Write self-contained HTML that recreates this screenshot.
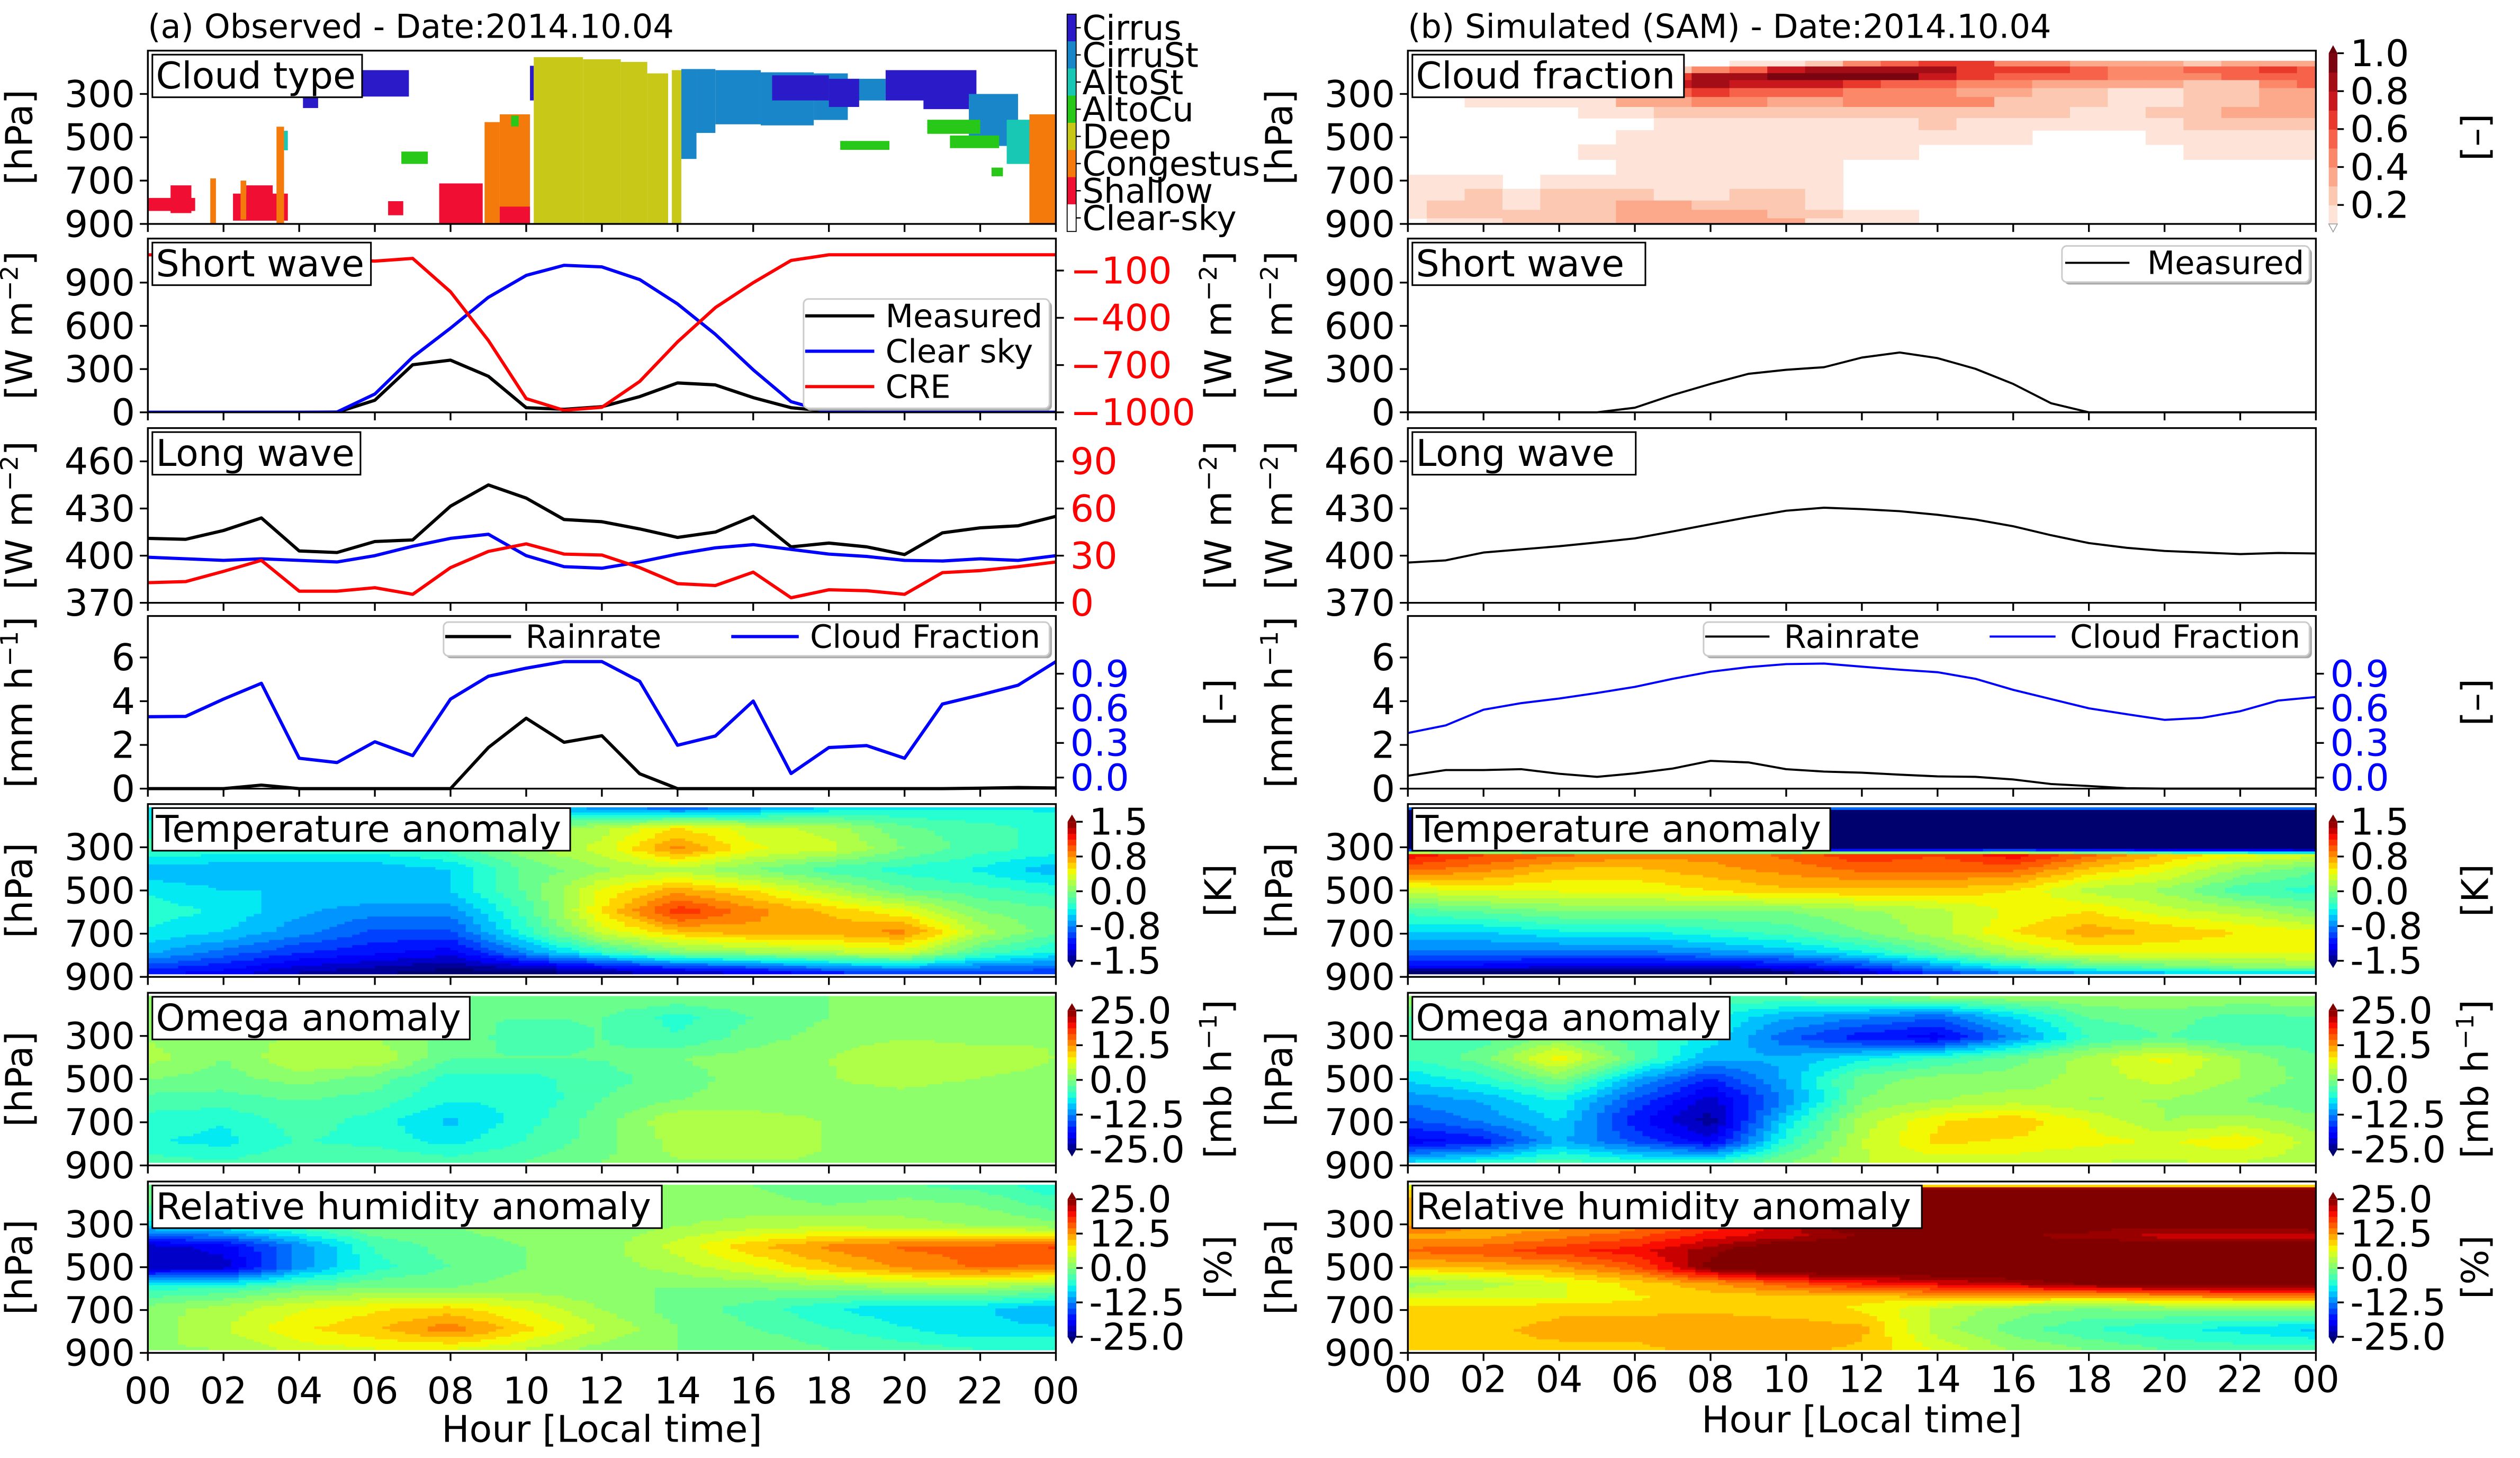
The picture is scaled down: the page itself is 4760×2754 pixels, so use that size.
<!DOCTYPE html>
<html><head><meta charset="utf-8"><title>Observed vs Simulated 2014.10.04</title>
<style>
html,body{margin:0;padding:0;background:#fff;}
svg{display:block;font-family:"DejaVu Sans","Liberation Sans",sans-serif;}
</style></head>
<body>
<svg id="fig" xmlns="http://www.w3.org/2000/svg" width="4760" height="2754" viewBox="0 0 1568 907" preserveAspectRatio="none">
<rect x="0" y="0" width="1568" height="907" fill="#fff"/>
<text x="92" y="23.6" font-size="20.5">(a) Observed - Date:2014.10.04</text>
<text x="876" y="23.6" font-size="20.5">(b) Simulated (SAM) - Date:2014.10.04</text>
<text x="374.5" y="897" font-size="23" text-anchor="middle">Hour [Local time]</text>
<text x="1158.5" y="891" font-size="23" text-anchor="middle">Hour [Local time]</text>
</svg>
<script>
// ---------------- DATA ----------------
const hours25 = [0,1,2,3,4,5,6,7,8,9,10,11,12,13,14,15,16,17,18,19,20,21,22,23,24];
const gridHours = [0,2,4,6,8,10,12,14,16,18,20,22,24];

const swObsMeasured = [0,0,0,0,0,0,84,330,362,250,32,21,39,109,204,190,102,32,7,0,0,0,0,0,0];
const swObsClear = [0,0,0,0,0,2,127,383,584,798,950,1020,1009,921,752,541,295,74,0,0,0,0,0,0,0];
const swObsCRE = [0,-5,-10,-15,-20,-30,-40,-23,-235,-544,-913,-987,-968,-804,-553,-335,-177,-36,0,0,0,0,0,0,0];
const lwObsMeasured = [411,410.4,416,424,403,402,409,410,431.5,445,436.6,423,421.6,417,411.6,415,425,405.6,408,405.6,400.7,414.5,417.7,419,425];
const lwObsClear = [399,398,397,398,397,396,400,406,411,413.6,400,393,392,396,401,405,407,404,401,399.5,397,396.6,398,397,400];
const lwObsCRE = [12.8,13.5,20,27,7.4,7.4,9.6,5.4,22.4,32.7,37.5,31,30.4,22.4,12.2,11,19.5,3.2,8.3,7.7,5.4,19.2,20.5,23,26];
const rainObs = [0,0,0,0.16,0,0,0,0,0,1.88,3.22,2.12,2.42,0.68,0,0,0,0,0,0,0,0,0.02,0.05,0.03];
const cfObs = [0.527,0.53,0.68,0.817,0.167,0.13,0.31,0.19,0.68,0.878,0.948,1.005,1.005,0.834,0.28,0.36,0.663,0.035,0.26,0.277,0.167,0.637,0.716,0.8,1.005];

const swSimMeasured = [0,0,0,0,0,0,32,120,197,267,295,313,380,415,376,302,197,63,0,0,0,0,0,0,0];
const lwSimMeasured = [395.6,397,402,404,406,408.4,411,415.4,420,424.5,428.6,430.5,429.6,428.3,426,423,418.7,413,408,405,403,402,401,401.7,401.4];
const rainSim = [0.59,0.85,0.85,0.89,0.68,0.54,0.7,0.92,1.27,1.2,0.89,0.78,0.73,0.64,0.56,0.54,0.42,0.21,0.12,0.02,0,0,0,0,0];
const cfSim = [0.386,0.452,0.588,0.645,0.685,0.733,0.786,0.856,0.917,0.957,0.983,0.988,0.961,0.935,0.913,0.856,0.76,0.68,0.6,0.549,0.5,0.518,0.575,0.667,0.698];

// cloud type blocks: [hourStart, hourEnd, pTop, pBottom, typeIndex]
const cloudTypeNames = ["Cirrus","CirruSt","AltoSt","AltoCu","Deep","Congestus","Shallow","Clear-sky"];
const cloudTypeColors = ["#2a1ac8","#1886c8","#18c8b4","#28c818","#c8c818","#f57a0c","#f00f32","#ffffff"];
const cloudBlocks = [
 [0,1.25,780,840,6],[0.6,1.15,722,850,6],[2.25,3.7,760,885,6],[2.6,3.3,722,780,6],
 [1.65,1.8,690,900,5],[2.45,2.6,700,880,5],[3.4,3.6,451,900,5],[3.6,3.7,470,560,2],
 [4.1,4.5,312,365,0],[5.6,6.9,190,312,0],[6.7,7.4,566,623,3],[6.35,6.75,795,860,6],
 [7.7,8.85,713,897,6],[8.9,9.3,430,900,5],[9.3,10.1,394,900,5],[9.3,10.1,820,900,6],[9.6,9.8,400,450,3],
 [10.1,10.2,170,330,0],[10.2,11.5,130,900,4],[11.5,12.5,140,900,4],[12.5,13.2,152,900,4],[13.2,13.75,205,900,4],[13.85,14.1,190,900,4],
 [14.1,14.5,185,600,1],[14.5,15.0,185,480,1],[15.0,16.2,190,440,1],[16.2,17.6,200,445,1],[17.6,18.5,205,420,1],[18.5,19.5,230,330,1],[19.5,21.7,240,300,1],
 [16.5,18.0,214,330,0],[18.0,18.8,230,360,0],[19.5,21.9,190,330,0],[20.5,21.7,300,370,0],
 [21.7,23.0,300,540,1],[22.7,23.4,419,623,2],[23.3,24,394,900,5],
 [20.6,22.0,419,484,3],[21.2,22.5,492,550,3],[18.3,19.6,517,558,3],[22.3,22.6,640,680,3]
];

// simulated cloud fraction: pressure edges and values per row (columns centred on hours 0..24)
const cfSimEdges = [147,173,204,236,273,314,360,411,467,533,602,673,738,792,835,874,900];
const cfSimValues = [
 [0,0,0,0,0,0,0,0,0,0.12,0.15,0.25,0.45,0.55,0.65,0.6,0.45,0.45,0.35,0.3,0.3,0.2,0.3,0.35,0.3],
 [0,0,0,0,0,0,0.15,0.25,0.4,0.55,0.75,0.8,0.85,0.85,0.8,0.65,0.6,0.6,0.5,0.45,0.45,0.5,0.55,0.65,0.5],
 [0,0,0,0,0,0,0.3,0.65,0.8,0.8,0.9,0.9,0.9,0.9,0.75,0.65,0.55,0.5,0.5,0.45,0.45,0.45,0.5,0.55,0.55],
 [0,0,0,0,0,0,0.45,0.75,0.8,0.75,0.75,0.7,0.6,0.55,0.55,0.45,0.45,0.35,0.3,0.3,0.3,0.2,0.25,0.45,0.5],
 [0,0,0,0,0,0,0.5,0.55,0.6,0.55,0.55,0.5,0.45,0.45,0.45,0.3,0.3,0.25,0.25,0.12,0.12,0.25,0.25,0.3,0.3],
 [0,0,0.12,0.12,0.12,0.12,0.3,0.35,0.45,0.4,0.35,0.35,0.4,0.4,0.4,0.4,0.25,0.25,0.25,0.12,0.12,0.25,0.25,0.3,0.3],
 [0,0,0,0,0,0.12,0.12,0.2,0.2,0.2,0.25,0.25,0.25,0.25,0.25,0.2,0.25,0.2,0.12,0.12,0.2,0.25,0.35,0.35,0.3],
 [0,0,0,0,0,0,0.05,0.12,0.12,0.12,0.12,0.12,0.12,0.12,0.2,0.12,0.12,0.12,0.12,0.12,0.12,0.2,0.2,0.25,0.2],
 [0,0,0,0,0,0,0.12,0.12,0.12,0.12,0.12,0.12,0.12,0.12,0.12,0.12,0.12,0,0,0,0.12,0.12,0.12,0.12,0.15],
 [0,0,0,0,0,0.12,0.12,0.12,0.12,0.12,0.12,0.12,0.12,0.12,0,0,0,0,0,0,0,0.12,0.12,0.12,0.12],
 [0,0,0,0,0,0,0.12,0.12,0.12,0.12,0.12,0.12,0,0,0,0,0,0,0,0,0,0,0,0,0],
 [0.12,0.12,0.12,0.05,0.12,0.12,0.12,0.12,0.12,0.12,0.12,0.12,0,0,0,0,0,0,0,0,0,0,0,0,0],
 [0.12,0.12,0.2,0.12,0.2,0.2,0.2,0.15,0.12,0.2,0.2,0.12,0,0,0,0,0,0,0,0,0,0,0,0,0],
 [0.12,0.2,0.2,0.12,0.2,0.2,0.3,0.3,0.2,0.2,0.2,0.12,0,0,0,0,0,0,0,0,0,0,0,0,0],
 [0.12,0.2,0.2,0.2,0.2,0.25,0.3,0.3,0.3,0.3,0.2,0.2,0.12,0.12,0,0,0,0,0,0,0,0,0,0,0],
 [0.05,0.12,0.12,0.2,0.2,0.2,0.3,0.3,0.3,0.3,0.3,0.12,0.12,0.12,0,0,0,0,0,0,0,0,0,0,0]
];
const cfLevelColors = ["#fee4d8","#fcc8b2","#fca98b","#fb8868","#f6624a","#e8392c","#c8171d","#a30e16","#7a0510"];

// temperature anomaly (K)
const tObsP = [100,200,300,400,500,600,700,800,900];
const tObs = [
 [-0.5,-0.5,-0.5,-0.6,-0.6,-0.6,-0.7,-0.9,-0.7,-0.5,-0.4,-0.4,-0.4],
 [-0.3,-0.3,-0.3,-0.3,-0.2,0.0,0.2,0.5,0.3,0.2,-0.1,-0.2,-0.3],
 [-0.2,-0.3,-0.3,-0.3,-0.2,0.1,0.3,0.8,0.4,0.3,0.0,-0.2,-0.3],
 [-0.6,-0.6,-0.6,-0.6,-0.5,-0.1,0.1,0.2,0.0,-0.2,-0.3,-0.4,-0.6],
 [-0.4,-0.5,-0.5,-0.5,-0.5,-0.1,0.4,0.7,0.5,0.2,-0.1,-0.2,-0.3],
 [-0.3,-0.4,-0.6,-0.7,-0.7,-0.2,0.5,1.1,0.8,0.6,0.4,0.0,-0.1],
 [-0.4,-0.5,-0.7,-0.9,-0.9,-0.3,0.3,0.6,0.7,0.7,0.8,0.2,-0.1],
 [-0.6,-0.8,-1.0,-1.1,-1.2,-0.7,-0.3,0.0,0.1,0.2,0.3,-0.2,-0.4],
 [-1.1,-1.2,-1.4,-1.5,-1.6,-1.6,-1.5,-1.4,-1.3,-1.1,-1.0,-1.0,-1.0]
];
const tSimP = [100,120,295,330,400,500,600,700,800,870,900];
const tSim = [
 [-0.2,-0.2,-0.2,-0.2,-0.2,-0.2,-0.2,-0.2,-0.2,-0.2,-0.2,-0.2,-0.2],
 [-2,-2,-2,-2,-2,-2,-2,-2,-2,-2,-2,-2,-2],
 [-2,-2,-2,-2,-2,-2,-2,-2,-2,-2,-2,-2,-2],
 [1.2,1.0,0.9,0.8,0.8,0.9,1.1,1.0,1.2,0.9,0.6,0.4,0.3],
 [0.9,0.8,0.6,0.6,0.7,0.8,0.9,0.9,0.9,0.6,0.4,0.1,-0.1],
 [0.3,0.4,0.4,0.4,0.5,0.6,0.6,0.6,0.5,0.2,0.1,-0.2,-0.3],
 [-0.2,-0.1,0.0,0.0,0.0,0.0,0.1,0.2,0.4,0.5,0.3,0.2,0.0],
 [-0.5,-0.5,-0.4,-0.4,-0.3,-0.2,0.0,0.2,0.5,0.7,0.6,0.5,0.4],
 [-0.8,-0.8,-0.8,-0.8,-0.7,-0.6,-0.4,-0.1,0.2,0.4,0.4,0.4,0.4],
 [-1.2,-1.2,-1.3,-1.3,-1.3,-1.2,-1.0,-0.7,-0.4,-0.2,-0.1,0.0,0.1],
 [-1.8,-1.8,-1.8,-1.8,-1.8,-1.6,-1.4,-1.0,-0.8,-0.7,-0.6,-0.6,-0.6]
];

// omega anomaly (mb/h)
const wObsP = [100,200,300,400,500,600,700,800,900];
const wObs = [
 [0,0,0,0,0,0,0,0,0,0,0,0,0],
 [1,1,0,-1,-2,-2,-2,-5,-2,0,2,1,1],
 [2,0,3,2,-1,-3,-2,-4,-1,1,2,1,2],
 [3,0,4,4,-2,-2,-2,0,1,2,4,4,2],
 [0,-1,1,-1,-5,-5,-3,-1,1,2,3,2,1],
 [-3,-3,-2,-3,-6,-6,-2,0,1,1,1,0,0],
 [-5,-6,-3,-5,-9,-5,-1,4,3,2,1,1,0],
 [-6,-7,-4,-5,-7,-4,-1,3,3,2,2,1,1],
 [-3,-4,-2,-2,-3,-2,0,2,2,2,2,2,1]
];
const wSimP = [100,200,300,400,500,600,700,800,900];
const wSim = [
 [2,2,1,0,-2,-2,0,1,2,2,2,2,2],
 [-2,-3,-2,-4,-6,-10,-12,-14,-8,-2,-1,-3,-2],
 [-3,-3,0,-3,-7,-14,-18,-20,-12,-4,-2,-4,-3],
 [-4,-1,8,-2,-10,-10,-7,-4,-1,3,7,2,-2],
 [-8,-5,0,-10,-17,-10,-1,1,1,3,5,2,-1],
 [-12,-10,-6,-15,-22,-12,0,2,3,2,2,0,-2],
 [-15,-12,-8,-18,-24,-8,3,8,10,6,2,3,1],
 [-20,-18,-10,-15,-20,-5,4,9,8,7,6,8,3],
 [-8,-5,-3,-5,-5,0,4,5,5,4,4,4,3]
];

// relative humidity anomaly (%)
const rhObsP = [100,200,300,400,500,600,700,800,900];
const rhObs = [
 [-2,-2,-2,-2,-2,0,0,0,0,-2,-2,-3,-6],
 [-2,-2,-1,-1,0,0,1,1,1,0,1,0,-3],
 [-8,-6,-3,0,0,1,1,2,3,4,3,2,1],
 [-22,-20,-12,-4,-1,0,1,5,10,13,15,15,17],
 [-22,-22,-12,-5,-2,0,1,3,6,10,13,15,14],
 [-5,-4,-1,0,0,1,0,0,0,1,2,2,0],
 [1,3,6,8,9,6,2,-1,-3,-6,-8,-8,-10],
 [1,4,8,10,14,9,4,0,-2,-4,-6,-8,-8],
 [2,2,5,6,6,4,1,0,0,-2,-3,-4,-4]
];
const rhSimP = [100,125,290,310,350,420,500,580,650,700,800,900];
const rhSim = [
 [3,3,3,3,3,3,3,3,3,3,3,3,3],
 [10,10,10,10,30,30,30,30,30,30,30,30,30],
 [12,10,10,12,20,28,30,30,30,30,30,30,30],
 [14,12,12,14,18,22,28,30,28,26,24,24,26],
 [12,12,14,16,20,22,25,25,25,24,22,22,22],
 [15,16,18,20,24,30,30,30,30,30,30,30,30],
 [10,11,12,16,26,30,30,30,30,30,30,30,30],
 [1,3,6,9,12,16,19,21,23,26,28,28,28],
 [6,6,6,8,9,9,9,10,10,9,10,12,12],
 [9,9,10,10,10,9,8,4,1,0,1,1,2],
 [10,10,11,11,12,12,11,3,-1,-4,-6,-7,-9],
 [10,10,10,10,11,11,10,6,2,0,-2,-3,-3]
];

const xTickHours = [0,2,4,6,8,10,12,14,16,18,20,22,24];
const xTickLabels = ["00","02","04","06","08","10","12","14","16","18","20","22","00"];
const pTicks = [300,500,700,900];
const swTicks = [0,300,600,900];
const creTicks = [-100,-400,-700,-1000];
const lwTicks = [370,400,430,460];
const lwCreTicks = [0,30,60,90];
const rainTicks = [0,2,4,6];
const cfTicks = [0.0,0.3,0.6,0.9];
const cfBarTicks = [0.2,0.4,0.6,0.8,1.0];
const tBarTicks = [-1.5,-0.75,0,0.75,1.5];
const wBarTicks = [-25,-12.5,0,12.5,25];

// ---------------- LAYOUT ----------------
const NS = "http://www.w3.org/2000/svg";
const svg = document.getElementById("fig");
function mk(tag, attrs, parent){
  const e = document.createElementNS(NS, tag);
  for (const k in attrs) e.setAttribute(k, attrs[k]);
  (parent || svg).appendChild(e);
  return e;
}
const COLS = {L:{x0:92,x1:657,side:"left"}, R:{x0:876,x1:1441,side:"right"}};
const ROWS = [[31.5,139.3],[148.4,256.5],[266.3,375],[383.2,490.6],[500.2,607.7],[617.6,725],[735,841.6]];
function hx(C,h){ return C.x0 + h/24*(C.x1-C.x0); }
function py(r,p){ const R=ROWS[r]; return R[0] + (p-100)/800*(R[1]-R[0]); }
const swY = v => 256.5 - v*(80.7/900);
const creY = v => 256.5 - (v+1000)*(88.2/900);
const lwY = v => 375 - (v-370)*(88/90);
const lwCreY = v => 375 - v*(88/90);
const rainY = v => 490.6 - v*(81.6/6);
const cfY = v => 483.7 - v*(64.6/0.9);

function jet(t){
  t=Math.max(0,Math.min(1,t));
  function pw(pts){ for(let i=1;i<pts.length;i++){ if(t<=pts[i][0]){ const a=pts[i-1],b=pts[i]; return a[1]+(b[1]-a[1])*(t-a[0])/(b[0]-a[0]); } } return pts[pts.length-1][1]; }
  const r=pw([[0,0],[0.35,0],[0.66,1],[0.89,1],[1,0.5]]);
  const g=pw([[0,0],[0.125,0],[0.375,1],[0.64,1],[0.91,0],[1,0]]);
  const b=pw([[0,0.5],[0.11,1],[0.34,1],[0.65,0],[1,0]]);
  return "rgb("+Math.round(r*255)+","+Math.round(g*255)+","+Math.round(b*255)+")";
}
const NLEV = 24;
function levelColor(v,min,max){
  const t=(v-min)/(max-min);
  if (t<0) return "rgb(0,0,110)";
  if (t>1) return "rgb(128,0,0)";
  const q=(Math.min(NLEV-1,Math.floor(t*NLEV))+0.5)/NLEV;
  return jet(q);
}
function interp(grid,P,h,p){
  let i=0; while(i<gridHours.length-2 && h>gridHours[i+1]) i++;
  let j=0; while(j<P.length-2 && p>P[j+1]) j++;
  const tx=Math.max(0,Math.min(1,(h-gridHours[i])/(gridHours[i+1]-gridHours[i])));
  const ty=Math.max(0,Math.min(1,(p-P[j])/(P[j+1]-P[j])));
  const a=grid[j][i]*(1-tx)+grid[j][i+1]*tx;
  const b=grid[j+1][i]*(1-tx)+grid[j+1][i+1]*tx;
  return a*(1-ty)+b*ty;
}

function xAxis(C,r,labels){
  const y=ROWS[r][1];
  xTickHours.forEach((h,k)=>{
    const t=mk("line",{x1:hx(C,h),x2:hx(C,h),y1:y,y2:y+5,stroke:"#000","stroke-width":1.1});
    
    
    if(labels){
      const tx=mk("text",{x:hx(C,h),y:(C.side==="left"?873:866),"font-size":23,"text-anchor":"middle"});
      tx.textContent=xTickLabels[k];
      
      
    }
  });
}
function yAxis(C,r,ticks,yf,fmt,right,color){
  ticks.forEach(v=>{
    const y=yf(v);
    const x=right?C.x1:C.x0;
    const t=mk("line",{x1:x,x2:right?x+5:x-5,y1:y,y2:y,stroke:"#000","stroke-width":1.1});
    
    
    const tx=mk("text",{x:right?x+9:x-8,y:y+8,"font-size":23,"text-anchor":right?"start":"end",fill:color||"#000"});
    tx.textContent=fmt(v);
    
    
  });
}
function frame(C,r,name){
  const f=mk("rect",{x:C.x0,y:ROWS[r][0],width:C.x1-C.x0,height:ROWS[r][1]-ROWS[r][0],fill:"none",stroke:"#000","stroke-width":1.1});
  
  
}
function panelLabel(C,r,text,w){
  const y=ROWS[r][0]+2.5;
  const g=mk("g",{});
  
  
  mk("rect",{x:C.x0+2.8,y:y,width:w,height:26.5,fill:"#fff",stroke:"#000","stroke-width":1},g);
  const t=mk("text",{x:C.x0+5,y:y+21,"font-size":23},g);
  t.textContent=text;
}
function yLabel(x,r,parts,name){
  const cy=(ROWS[r][0]+ROWS[r][1])/2;
  const t=mk("text",{x:0,y:0,"font-size":23,"text-anchor":"middle",transform:"translate("+(x+8)+","+cy+") rotate(-90)"});
  
  
  parts.forEach(p=>{
    const s=mk("tspan",{},t);
    if(p.sup){ s.setAttribute("dy","-9"); s.setAttribute("font-size","15"); }
    else if(p.after){ s.setAttribute("dy","9"); }
    s.textContent=p.t;
  });
}
function series(C,vals,yf,color,w,name){
  const pts=vals.map((v,i)=>hx(C,hours25[i]).toFixed(2)+","+yf(v).toFixed(2)).join(" ");
  const l=mk("polyline",{points:pts,fill:"none",stroke:color,"stroke-width":w,"stroke-linejoin":"round"});
  
  
}
function clipFor(C,r,id){
  const cp=mk("clipPath",{id:id});
  mk("rect",{x:C.x0,y:ROWS[r][0],width:C.x1-C.x0,height:ROWS[r][1]-ROWS[r][0]},cp);
  return "url(#"+id+")";
}
function legend(x,y,w,h,entries){
  const g=mk("g",{});
  
  
  mk("rect",{x:x+1.5,y:y+1.5,width:w,height:h,rx:3,fill:"#aaa"},g);
  mk("rect",{x:x,y:y,width:w,height:h,rx:3,fill:"#fff",stroke:"#ccc","stroke-width":1},g);
  entries.forEach(e=>{
    const eg=mk("g",{},g);
    
    
    mk("line",{x1:e.lx,x2:e.lx+e.lw,y1:e.y,y2:e.y,stroke:e.c,"stroke-width":e.sw},eg);
    const t=mk("text",{x:e.tx,y:e.y+7,"font-size":20},eg);
    t.textContent=e.t;
  });
}

// ---------- heatmaps ----------
function heatmap(C,r,grid,P,min,max,name){
  const g=mk("g",{"clip-path":clipFor(C,r,"clip-"+name)});
  
  
  const nx=120, ny=64;
  const top=ROWS[r][0]+2, bot=ROWS[r][1]-2;
  const cw=(C.x1-C.x0)/nx, ch=(bot-top)/ny;
  for(let j=0;j<ny;j++){
    const p=100+(j+0.5)*800/ny;
    let runStart=0, runCol=null;
    for(let i=0;i<=nx;i++){
      let col=null;
      if(i<nx){ const h=(i+0.5)*24/nx; col=levelColor(interp(grid,P,h,p),min,max); }
      if(col!==runCol){
        if(runCol!==null){
          const c=mk("rect",{x:(C.x0+runStart*cw).toFixed(2),y:(top+j*ch).toFixed(2),width:((i-runStart)*cw+0.4).toFixed(2),height:(ch+0.4).toFixed(2),fill:runCol},g);
          
          
        }
        runStart=i; runCol=col;
      }
    }
  }
}
function jetBar(x,r,min,max,ticks,fmt){
  const g=mk("g",{});
  
  
  const y0=ROWS[r][0]+11, y1=ROWS[r][1]-10, w=5.4;
  for(let k=0;k<NLEV;k++){
    const yy=y1-(k+1)*(y1-y0)/NLEV;
    mk("rect",{x:x,y:yy.toFixed(2),width:w,height:((y1-y0)/NLEV+0.3).toFixed(2),fill:jet((k+0.5)/NLEV)},g);
  }
  mk("polygon",{points:x+","+y0+" "+(x+w)+","+y0+" "+(x+w/2)+","+(y0-4.5),fill:"rgb(128,0,0)"},g);
  mk("polygon",{points:x+","+y1+" "+(x+w)+","+y1+" "+(x+w/2)+","+(y1+4.5),fill:"rgb(0,0,110)"},g);
  ticks.forEach(v=>{
    const yy=y1-(v-min)/(max-min)*(y1-y0);
    mk("line",{x1:x+w,x2:x+w+4,y1:yy,y2:yy,stroke:"#000","stroke-width":1.1},g);
    const t=mk("text",{x:x+w+8,y:yy+8,"font-size":23},g);
    t.textContent=fmt(v);
    
    
  });
}
const minus = v => (v<0?"\u2212":"")+Math.abs(v);

// ===== Row 1 left: cloud type =====
(function(){
  const C=COLS.L;
  const g=mk("g",{"clip-path":clipFor(C,0,"clip-ct")});
  
  
  cloudBlocks.forEach(b=>{
    const c=mk("rect",{x:hx(C,b[0]).toFixed(2),y:py(0,b[2]).toFixed(2),width:(hx(C,b[1])-hx(C,b[0])).toFixed(2),height:(py(0,b[3])-py(0,b[2])).toFixed(2),fill:cloudTypeColors[b[4]]},g);
    
    
  });
  frame(C,0,"cloud-type-axes");
  yAxis(C,0,pTicks,p=>py(0,p),v=>String(v),false);
  xAxis(C,0,false);
  panelLabel(C,0,"Cloud type",130.5);
  yLabel(12,0,[{t:"[hPa]"}],"y-axis-title-hpa");
  // legend colorbar
  const lg=mk("g",{});
  
  
  const top=8.8, bot=144, n=cloudTypeNames.length, sh=(bot-top)/n;
  cloudTypeNames.forEach((nm,k)=>{
    mk("rect",{x:664,y:top+k*sh,width:5.6,height:sh+0.2,fill:cloudTypeColors[k]},lg);
    mk("line",{x1:669.6,x2:672.5,y1:top+(k+0.5)*sh,y2:top+(k+0.5)*sh,stroke:"#000","stroke-width":0.8},lg);
    const t=mk("text",{x:673.5,y:top+(k+0.5)*sh+7.5,"font-size":21},lg);
    t.textContent=nm;
    
    
  });
  mk("rect",{x:664,y:top,width:5.6,height:bot-top,fill:"none",stroke:"#000","stroke-width":0.6},lg);
})();

// ===== Row 1 right: cloud fraction =====
(function(){
  const C=COLS.R;
  const g=mk("g",{"clip-path":clipFor(C,0,"clip-cf")});
  
  
  cfSimValues.forEach((row,ri)=>{
    row.forEach((v,ci)=>{
      if(v<0.1) return;
      const lev=Math.min(8,Math.floor(v*10)-1);
      const c=mk("rect",{x:hx(C,hours25[ci]-0.5).toFixed(2),y:py(0,cfSimEdges[ri]).toFixed(2),width:(hx(C,1)-hx(C,0)+0.3).toFixed(2),height:(py(0,cfSimEdges[ri+1])-py(0,cfSimEdges[ri])+0.3).toFixed(2),fill:cfLevelColors[lev]},g);
      
      
    });
  });
  frame(C,0,"cloud-fraction-axes");
  yAxis(C,0,pTicks,p=>py(0,p),v=>String(v),false);
  xAxis(C,0,false);
  panelLabel(C,0,"Cloud fraction",169);
  yLabel(796,0,[{t:"[hPa]"}],"y-axis-title-hpa");
  // colorbar
  const cb=mk("g",{});
  
  
  const yTop=33.1, yBot=139.3, x=1449, w=5.4;
  const yv=v=>yBot-(v-0.1)/0.9*(yBot-yTop);
  for(let k=0;k<9;k++){
    mk("rect",{x:x,y:yv(0.2+k*0.1).toFixed(2),width:w,height:(yv(0.1+k*0.1)-yv(0.2+k*0.1)+0.3).toFixed(2),fill:cfLevelColors[k]},cb);
  }
  mk("polygon",{points:x+","+yTop+" "+(x+w)+","+yTop+" "+(x+w/2)+","+(yTop-5),fill:"#67000d"},cb);
  mk("polygon",{points:x+","+yBot+" "+(x+w)+","+yBot+" "+(x+w/2)+","+(yBot+5),fill:"#fff",stroke:"#999","stroke-width":0.5},cb);
  cfBarTicks.forEach(v=>{
    mk("line",{x1:x+w,x2:x+w+4,y1:yv(v),y2:yv(v),stroke:"#000","stroke-width":1.1},cb);
    const t=mk("text",{x:x+w+8,y:yv(v)+8,"font-size":23},cb);
    t.textContent=v.toFixed(1);
    
    
  });
  yLabel(1540,0,[{t:"[\u2013]"}],"colorbar-title-fraction");
})();

// ===== Row 2: short wave =====
(function(){
  const C=COLS.L;
  const cp=clipFor(C,1,"clip-swL");
  const g=mk("g",{"clip-path":cp});
  
  
  svg.removeChild(g); svg.appendChild(g);
  const ser=(vals,yf,c,n)=>{ const pts=vals.map((v,i)=>hx(C,hours25[i]).toFixed(2)+","+yf(v).toFixed(2)).join(" "); const l=mk("polyline",{points:pts,fill:"none",stroke:c,"stroke-width":2,"stroke-linejoin":"round"},g);   };
  ser(swObsMeasured,swY,"#000","sw-measured-line");
  ser(swObsClear,swY,"#0000ff","sw-clear-sky-line");
  ser(swObsCRE,creY,"#ff0000","sw-cre-line");
  frame(C,1,"shortwave-axes-left");
  yAxis(C,1,swTicks,swY,v=>String(v),false);
  yAxis(C,1,creTicks,creY,minus,true,"#ff0000");
  xAxis(C,1,false);
  panelLabel(C,1,"Short wave",136);
  legend(500,186,153,68,[
    {lx:501,lw:43,y:196.5,c:"#000",sw:2,tx:551,t:"Measured"},
    {lx:501,lw:43,y:218.5,c:"#0000ff",sw:2,tx:551,t:"Clear sky"},
    {lx:501,lw:43,y:240.5,c:"#ff0000",sw:2,tx:551,t:"CRE"}]);
  yLabel(12,1,[{t:"[W m"},{t:"\u22122",sup:true},{t:"]",after:true}],"y-axis-title-wm2");
  yLabel(758,1,[{t:"[W m"},{t:"\u22122",sup:true},{t:"]",after:true}],"y-axis-title-cre");

  const R=COLS.R;
  series(R,swSimMeasured,swY,"#000",1.3,"sw-sim-measured-line");
  frame(R,1,"shortwave-axes-right");
  yAxis(R,1,swTicks,swY,v=>String(v),false);
  xAxis(R,1,false);
  panelLabel(R,1,"Short wave",145);
  legend(1283,153,154,22.5,[{lx:1285,lw:40,y:163.5,c:"#000",sw:1.3,tx:1336,t:"Measured"}]);
  yLabel(796,1,[{t:"[W m"},{t:"\u22122",sup:true},{t:"]",after:true}],"y-axis-title-wm2");
})();

// ===== Row 3: long wave =====
(function(){
  const C=COLS.L;
  series(C,lwObsMeasured,lwY,"#000",2,"lw-measured-line");
  series(C,lwObsClear,lwY,"#0000ff",2,"lw-clear-sky-line");
  series(C,lwObsCRE,lwCreY,"#ff0000",2,"lw-cre-line");
  frame(C,2,"longwave-axes-left");
  yAxis(C,2,lwTicks,lwY,v=>String(v),false);
  yAxis(C,2,lwCreTicks,lwCreY,v=>String(v),true,"#ff0000");
  xAxis(C,2,false);
  panelLabel(C,2,"Long wave",129.5);
  yLabel(12,2,[{t:"[W m"},{t:"\u22122",sup:true},{t:"]",after:true}],"y-axis-title-wm2");
  yLabel(758,2,[{t:"[W m"},{t:"\u22122",sup:true},{t:"]",after:true}],"y-axis-title-cre");
  const R=COLS.R;
  series(R,lwSimMeasured,lwY,"#000",1.3,"lw-sim-measured-line");
  frame(R,2,"longwave-axes-right");
  yAxis(R,2,lwTicks,lwY,v=>String(v),false);
  xAxis(R,2,false);
  panelLabel(R,2,"Long wave",139);
  yLabel(796,2,[{t:"[W m"},{t:"\u22122",sup:true},{t:"]",after:true}],"y-axis-title-wm2");
})();

// ===== Row 4: rain / cloud fraction =====
(function(){
  const C=COLS.L;
  series(C,rainObs,rainY,"#000",2,"rainrate-line");
  series(C,cfObs,cfY,"#0000ff",2,"cloud-fraction-line");
  frame(C,3,"rain-axes-left");
  yAxis(C,3,rainTicks,rainY,v=>String(v),false);
  yAxis(C,3,cfTicks,cfY,v=>v.toFixed(1),true,"#0000ff");
  xAxis(C,3,false);
  legend(276,387,377,21,[
    {lx:277,lw:41,y:396,c:"#000",sw:2,tx:327,t:"Rainrate"},
    {lx:455,lw:42,y:396,c:"#0000ff",sw:2,tx:504,t:"Cloud Fraction"}]);
  yLabel(12,3,[{t:"[mm h"},{t:"\u22121",sup:true},{t:"]",after:true}],"y-axis-title-mmh");
  yLabel(758,3,[{t:"[\u2013]"}],"y-axis-title-fraction");
  const R=COLS.R;
  series(R,rainSim,rainY,"#000",1.3,"rainrate-sim-line");
  series(R,cfSim,cfY,"#0000ff",1.3,"cloud-fraction-sim-line");
  frame(R,3,"rain-axes-right");
  yAxis(R,3,rainTicks,rainY,v=>String(v),false);
  yAxis(R,3,cfTicks,cfY,v=>v.toFixed(1),true,"#0000ff");
  xAxis(R,3,false);
  legend(1060,387,377,21,[
    {lx:1061,lw:40,y:396,c:"#000",sw:1.3,tx:1110,t:"Rainrate"},
    {lx:1238,lw:41,y:396,c:"#0000ff",sw:1.3,tx:1288,t:"Cloud Fraction"}]);
  yLabel(796,3,[{t:"[mm h"},{t:"\u22121",sup:true},{t:"]",after:true}],"y-axis-title-mmh");
  yLabel(1540,3,[{t:"[\u2013]"}],"y-axis-title-fraction");
})();

// ===== Rows 5-7: contour maps =====
const fmtT = v => v===0?"0.0":(v<0?"-":"")+(Math.abs(v)===0.75?"0.8":Math.abs(v).toFixed(1));
const fmtW = v => (v<0?"-":"")+Math.abs(v).toFixed(1);
[
 {r:4,gL:tObs,pL:tObsP,gR:tSim,pR:tSimP,min:-1.5,max:1.5,ticks:tBarTicks,fmt:fmtT,label:"Temperature anomaly",wL:260,wR:260,unit:[{t:"[K]"}],n:"temperature"},
 {r:5,gL:wObs,pL:wObsP,gR:wSim,pR:wSimP,min:-25,max:25,ticks:wBarTicks,fmt:fmtW,label:"Omega anomaly",wL:197.5,wR:197.5,unit:[{t:"[mb h"},{t:"\u22121",sup:true},{t:"]",after:true}],n:"omega"},
 {r:6,gL:rhObs,pL:rhObsP,gR:rhSim,pR:rhSimP,min:-25,max:25,ticks:wBarTicks,fmt:fmtW,label:"Relative humidity anomaly",wL:317,wR:317,unit:[{t:"[%]"}],n:"humidity"}
].forEach(cfg=>{
  const L=COLS.L, R=COLS.R;
  heatmap(L,cfg.r,cfg.gL,cfg.pL,cfg.min,cfg.max,cfg.n+"-observed-map");
  frame(L,cfg.r,cfg.n+"-axes-left");
  yAxis(L,cfg.r,pTicks,p=>py(cfg.r,p),v=>String(v),false);
  xAxis(L,cfg.r,cfg.r===6);
  panelLabel(L,cfg.r,cfg.label,cfg.wL);
  jetBar(664.3,cfg.r,cfg.min,cfg.max,cfg.ticks,cfg.fmt);
  yLabel(12,cfg.r,[{t:"[hPa]"}],"y-axis-title-hpa");
  yLabel(758,cfg.r,cfg.unit,"colorbar-title-"+cfg.n);

  heatmap(R,cfg.r,cfg.gR,cfg.pR,cfg.min,cfg.max,cfg.n+"-simulated-map");
  frame(R,cfg.r,cfg.n+"-axes-right");
  yAxis(R,cfg.r,pTicks,p=>py(cfg.r,p),v=>String(v),false);
  xAxis(R,cfg.r,cfg.r===6);
  panelLabel(R,cfg.r,cfg.label,cfg.wR);
  jetBar(1449,cfg.r,cfg.min,cfg.max,cfg.ticks,cfg.fmt);
  yLabel(796,cfg.r,[{t:"[hPa]"}],"y-axis-title-hpa");
  yLabel(1540,cfg.r,cfg.unit,"colorbar-title-"+cfg.n);
});
</script>
</body></html>
